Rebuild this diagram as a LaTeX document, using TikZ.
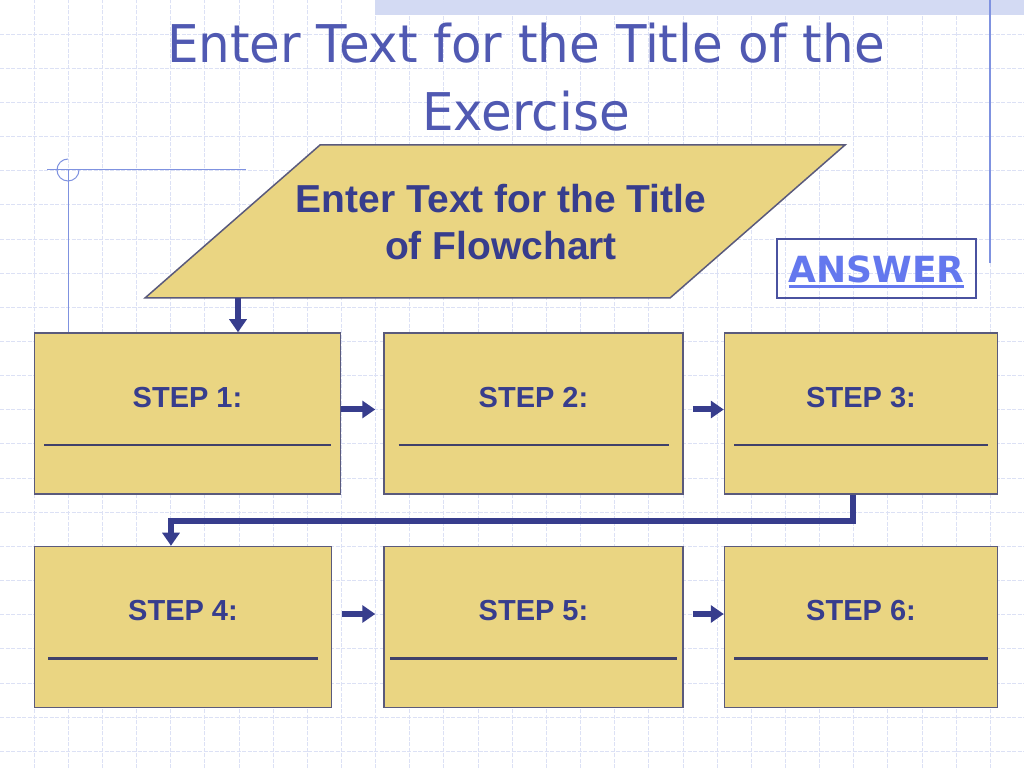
\documentclass[tikz,border=0pt]{standalone}
\usepackage{fontspec}
\setmainfont{Liberation Sans}
\newfontfamily\titlefont[FakeStretch=0.96]{DejaVu Sans}
\newfontfamily\answerfont{DejaVu Sans}
\usepackage{xcolor}
\usepackage{tikz}
\usetikzlibrary{arrows.meta,positioning}

\definecolor{gridblue}{HTML}{DCE1F5}
\definecolor{bandblue}{HTML}{D3DAF3}
\definecolor{decoblue}{HTML}{7F92E0}
\definecolor{titleblue}{HTML}{5059B2}
\definecolor{boxfill}{HTML}{EAD582}
\definecolor{boxedge}{HTML}{5A5A7C}
\definecolor{navy}{HTML}{373D8D}
\definecolor{blankline}{HTML}{40416A}
\definecolor{answerblue}{HTML}{6478EE}
\definecolor{answeredge}{HTML}{4A52A0}

\newcommand{\ansline}[1]{\setbox0\hbox{#1}\rlap{\copy0}\rule[-5pt]{\wd0}{3pt}}
\newcommand{\blank}[1]{\textcolor{blankline}{\rule{#1}{2.5pt}}}

\begin{document}
\begin{tikzpicture}[
      x=1pt, y=1pt,
      node distance=40pt,
      gridline/.style={gridblue, line width=1pt, dash pattern=on 4pt off 1.5pt},
      deco/.style={decoblue, line width=1pt},
      stepbox/.style={draw=boxedge, fill=boxfill, line width=1.5pt, minimum height=161pt, inner sep=0pt, align=center, text=navy, font=\fontsize{29}{34}\selectfont\bfseries},
      arr/.style={navy, line width=6pt, -{Triangle[length=13pt,width=17pt]}}
    ]
      \useasboundingbox (0,0) rectangle (1024,768);
      \fill[white] (0,0) rectangle (1024,768);
      \foreach \k in {1,...,29}
        \draw[gridline] (\k*34.15,0) -- (\k*34.15,768);
      \foreach \k in {1,...,22}
        \draw[gridline] (0,768-\k*34.15) -- (1024,768-\k*34.15);
      \fill[bandblue] (375,753) rectangle (1024,768);
      \draw[decoblue, line width=1.5pt] (990,768) -- (990,505);
      \draw[deco] (47,598) -- (246,598);
      \draw[deco] (68,598) -- (68,436);
      \draw[deco] (68,609) arc[start angle=90, end angle=360, radius=11];

      \node[font=\titlefont\fontsize{52}{68}\selectfont, text=titleblue, align=center] (title) at (526,690.5) {Enter Text for the Title of the\\Exercise};

      \filldraw[draw=boxedge, fill=boxfill, line width=1.5pt] (145,470) -- (320,623) -- (845,623) -- (670,470) -- cycle;
      \node[font=\fontsize{39}{47}\selectfont\bfseries, text=navy, align=center] (chart) at (501,546) {Enter Text for the Title\\of Flowchart};
      \coordinate (chartfoot) at (238,470);

      \node[draw=answeredge, line width=1.2pt, minimum width=199pt, minimum height=59pt, inner sep=0pt, text height=34pt, text depth=5pt, text=answerblue, font=\answerfont\fontsize{36}{40}\selectfont\bfseries] (answer) at (876.5,499.5) {\ansline{ANSWER}};

      \node[stepbox, minimum width=306pt] (s1) at (187.5,354.5) {\rule{0pt}{27pt}STEP 1:\\[5pt]\blank{287pt}};
      \node[stepbox, minimum width=299pt, right=42pt of s1] (s2) {\rule{0pt}{27pt}STEP 2:\\[5pt]\blank{270pt}};
      \node[stepbox, minimum width=273pt, right=of s2] (s3) {\rule{0pt}{27pt}STEP 3:\\[5pt]\blank{254pt}};
      \node[stepbox, minimum width=297pt, below right=51pt and 0pt of s1.south west] (s4) {\rule{0pt}{27pt}STEP 4:\\[5pt]\blank{270pt}};
      \node[stepbox, minimum width=299pt, right=51pt of s4] (s5) {\rule{0pt}{27pt}STEP 5:\\[5pt]\blank{287pt}};
      \node[stepbox, minimum width=273pt, right=of s5] (s6) {\rule{0pt}{27pt}STEP 6:\\[5pt]\blank{254pt}};

      \draw[arr] (chartfoot) -- (chartfoot |- s1.north);
      \draw[arr, shorten >=8pt] ([yshift=4pt]s1.east) -- ([yshift=4pt]s2.west);
      \draw[arr, shorten <=9pt] ([yshift=4pt]s2.east) -- ([yshift=4pt]s3.west);
      \draw[arr, line join=miter] ([xshift=-8.5pt]s3.south) -- ++(0,-26) -| ([xshift=-12pt]s4.north);
      \draw[arr, shorten <=10pt, shorten >=8pt] ([yshift=13pt]s4.east) -- ([yshift=13pt]s5.west);
      \draw[arr, shorten <=9pt] ([yshift=13pt]s5.east) -- ([yshift=13pt]s6.west);
    \end{tikzpicture}
\end{document}
